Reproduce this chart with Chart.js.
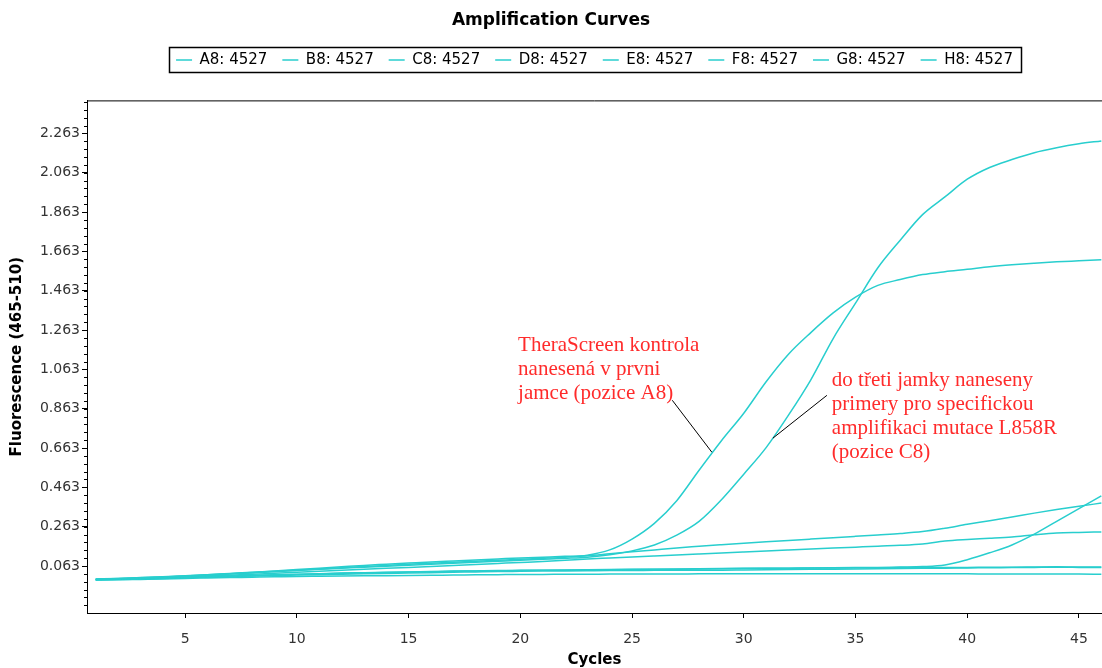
<!DOCTYPE html>
<html>
<head>
<meta charset="utf-8">
<script src="https://cdn.jsdelivr.net/npm/chart.js@4.4.1/dist/chart.umd.min.js"></script>
<style>
body{margin:0;background:#fff;}
#wrap{width:1102px;height:668px;}
</style>
</head>
<body>
<div id="wrap"><canvas id="chart"></canvas></div>
<script>
// cycle numbers and one fluorescence list per well
const cycles=[1,2,3,4,5,6,7,8,9,10,11,12,13,14,15,16,17,18,19,20,21,22,23,24,25,26,27,28,29,30,31,32,33,34,35,36,37,38,39,40,41,42,43,44,45,46];
const wells=["A8: 4527","B8: 4527","C8: 4527","D8: 4527","E8: 4527","F8: 4527","G8: 4527","H8: 4527"];

const a8=[-0.004,-0.001,0.003,0.007,0.012,0.018,0.024,0.030,0.036,0.042,0.048,0.054,0.060,0.066,0.072,0.077,0.082,0.087,0.092,0.097,0.102,0.108,0.118,0.145,0.200,0.280,0.395,0.550,0.700,0.840,1.000,1.140,1.250,1.350,1.430,1.490,1.520,1.545,1.560,1.572,1.585,1.595,1.603,1.610,1.615,1.620];
const b8=[-0.003,0.000,0.004,0.008,0.013,0.019,0.025,0.031,0.038,0.045,0.052,0.059,0.066,0.072,0.078,0.084,0.089,0.094,0.099,0.104,0.108,0.112,0.115,0.125,0.135,0.145,0.155,0.163,0.171,0.179,0.186,0.193,0.200,0.207,0.214,0.221,0.228,0.238,0.255,0.275,0.293,0.312,0.332,0.350,0.367,0.383];
const c8=[-0.005,-0.002,0.002,0.006,0.011,0.016,0.022,0.028,0.034,0.040,0.046,0.052,0.057,0.062,0.067,0.072,0.077,0.082,0.087,0.092,0.097,0.102,0.108,0.120,0.140,0.170,0.220,0.290,0.400,0.530,0.665,0.830,1.010,1.220,1.400,1.580,1.720,1.850,1.940,2.030,2.090,2.130,2.165,2.190,2.210,2.225];
const d8=[-0.006,-0.003,0.000,0.004,0.008,0.012,0.016,0.021,0.026,0.031,0.036,0.041,0.046,0.051,0.056,0.061,0.066,0.071,0.076,0.081,0.086,0.092,0.099,0.104,0.109,0.114,0.119,0.124,0.129,0.134,0.139,0.144,0.149,0.154,0.159,0.164,0.168,0.175,0.190,0.198,0.204,0.211,0.222,0.231,0.234,0.236];
const e8=[-0.005,-0.003,0.000,0.003,0.006,0.009,0.012,0.015,0.018,0.021,0.024,0.027,0.029,0.031,0.033,0.035,0.037,0.038,0.039,0.040,0.041,0.042,0.043,0.044,0.045,0.046,0.047,0.048,0.049,0.050,0.051,0.052,0.053,0.054,0.055,0.056,0.058,0.060,0.068,0.095,0.130,0.170,0.225,0.290,0.355,0.420];
const f8=[-0.006,-0.004,-0.001,0.002,0.005,0.008,0.011,0.014,0.017,0.020,0.023,0.026,0.028,0.030,0.032,0.034,0.036,0.038,0.040,0.041,0.042,0.043,0.044,0.045,0.046,0.047,0.048,0.049,0.050,0.051,0.052,0.052,0.053,0.053,0.054,0.054,0.055,0.055,0.056,0.056,0.057,0.057,0.058,0.059,0.058,0.058];
const g8=[-0.008,-0.006,-0.003,0.000,0.003,0.006,0.009,0.012,0.015,0.017,0.019,0.021,0.023,0.025,0.027,0.029,0.031,0.033,0.035,0.036,0.037,0.038,0.039,0.040,0.040,0.041,0.041,0.042,0.042,0.043,0.044,0.045,0.046,0.047,0.048,0.049,0.050,0.051,0.052,0.053,0.054,0.055,0.056,0.057,0.056,0.055];
const h8=[-0.008,-0.007,-0.005,-0.003,0.000,0.002,0.004,0.006,0.008,0.010,0.011,0.012,0.013,0.014,0.015,0.016,0.017,0.018,0.019,0.020,0.020,0.021,0.021,0.022,0.022,0.022,0.022,0.023,0.023,0.023,0.023,0.023,0.023,0.023,0.023,0.023,0.023,0.023,0.023,0.023,0.022,0.022,0.022,0.022,0.022,0.021];

const yTickLabels=["0.063","0.263","0.463","0.663","0.863","1.063","1.263","1.463","1.663","1.863","2.063","2.263"];
const xTickLabels=["5","10","15","20","25","30","35","40","45"];

// red notes, anchored in cycle / fluorescence units
const notes=[
{lines:["TheraScreen kontrola","nanesená v prvni","jamce (pozice A8)"],at:[19.9,1.185],from:[26.8,0.906],to:[28.57,0.642]},
{lines:["do třeti jamky naneseny","primery pro specifickou","amplifikaci mutace L858R","(pozice C8)"],at:[33.94,1.007],from:[33.72,0.931],to:[31.3,0.713]}
];

const series=[a8,b8,c8,d8,e8,f8,g8,h8];
const lineColor="rgb(40,206,206)";
const tickFont={family:"DejaVu Sans",size:14};
const boldFont={family:"DejaVu Sans",size:15,weight:"bold",lineHeight:1};

// empty strip between legend and plot
const spacer={
id:"spacer",
beforeInit(chart){
Chart.layouts.addBox(chart,{
position:"top",
weight:0,
fullSize:true,
options:{},
update(w){this.width=w;this.height=23;},
getPadding(){return {left:0,right:0,top:0,bottom:0};},
isHorizontal(){return true;},
draw(){}
});
}
};

const frame={
id:"frame",
afterDraw(chart){
const ctx=chart.ctx;
const a=chart.chartArea;
ctx.save();
ctx.strokeStyle="#000";
ctx.lineWidth=1;
// top border of plot
ctx.beginPath();
ctx.moveTo(a.left,a.top+0.5);
ctx.lineTo(a.right,a.top+0.5);
ctx.stroke();
// minor y ticks
const y=chart.scales.y;
for(let k=-5;k<60;k++){
const v=0.063+k*0.04;
if(v<y.min||v>y.max)continue;
const py=Math.round(y.getPixelForValue(v))+0.5;
ctx.beginPath();
ctx.moveTo(a.left-3,py);
ctx.lineTo(a.left,py);
ctx.stroke();
}
// legend frame
const hb=chart.legend.legendHitBoxes;
if(hb&&hb.length){
const first=hb[0],last=hb[hb.length-1];
const l=first.left-7,r=last.left+last.width+8;
const t=first.top-5,b=first.top+first.height+5;
ctx.lineWidth=1.5;
ctx.strokeRect(Math.round(l)+0.5,Math.round(t)+0.5,Math.round(r-l),Math.round(b-t));
}
ctx.restore();
}
};

const notesPlugin={
id:"notes",
afterDatasetsDraw(chart){
const ctx=chart.ctx;
const x=chart.scales.x,y=chart.scales.y;
ctx.save();
notes.forEach(n=>{
ctx.strokeStyle="#000";
ctx.lineWidth=1;
ctx.beginPath();
ctx.moveTo(x.getPixelForValue(n.from[0]),y.getPixelForValue(n.from[1]));
ctx.lineTo(x.getPixelForValue(n.to[0]),y.getPixelForValue(n.to[1]));
ctx.stroke();
ctx.fillStyle="#ff2b2b";
ctx.font='21px "Liberation Serif"';
ctx.textBaseline="middle";
ctx.textAlign="left";
n.lines.forEach((t,i)=>{
ctx.fillText(t,x.getPixelForValue(n.at[0]),y.getPixelForValue(n.at[1])+i*24);
});
});
ctx.restore();
}
};

new Chart(document.getElementById("chart"),{
type:"line",
data:{
datasets:series.map((s,i)=>({
label:wells[i],
data:cycles.map((c,j)=>({x:c,y:s[j]})),
borderColor:lineColor,
backgroundColor:lineColor,
borderWidth:1.5,
pointRadius:0,
cubicInterpolationMode:"monotone",
fill:false
}))
},
options:{
responsive:true,
maintainAspectRatio:false,
animation:false,
layout:{padding:{top:0,right:0,bottom:0,left:0}},
plugins:{
tooltip:{enabled:false},
title:{
display:true,
text:"Amplification Curves",
color:"#000",
font:{family:"DejaVu Sans",size:17,weight:"bold"},
padding:{top:10,bottom:7}
},
legend:{
display:true,
position:"top",
fullSize:false,
labels:{
usePointStyle:true,
pointStyle:"line",
pointStyleWidth:16,
color:"#000",
font:{family:"DejaVu Sans",size:15},
padding:15
}
}
},
scales:{
x:{
type:"linear",
min:0.61,
max:46.03,
afterBuildTicks:s=>{s.ticks=xTickLabels.map(t=>({value:Number(t)}));},
afterFit:s=>{s.height=55;},
grid:{drawOnChartArea:false,tickLength:5,color:"#000"},
border:{color:"#000"},
ticks:{font:tickFont,color:"#333",padding:13,maxRotation:0,autoSkip:false,callback:v=>String(v)},
title:{display:true,text:"Cycles",color:"#000",font:boldFont,padding:{top:0,bottom:0}}
},
y:{
type:"linear",
min:-0.176,
max:2.431,
afterBuildTicks:s=>{s.ticks=yTickLabels.map(t=>({value:Number(t)}));},
afterFit:s=>{s.width=87;},
grid:{drawOnChartArea:false,tickLength:5,color:"#000"},
border:{color:"#000"},
ticks:{font:tickFont,color:"#333",padding:2,callback:v=>v.toFixed(3)},
title:{display:true,text:"Fluorescence (465-510)",color:"#000",font:boldFont,padding:{top:10,bottom:0}}
}
}
},
plugins:[spacer,frame,notesPlugin]
});
</script>
</body>
</html>
